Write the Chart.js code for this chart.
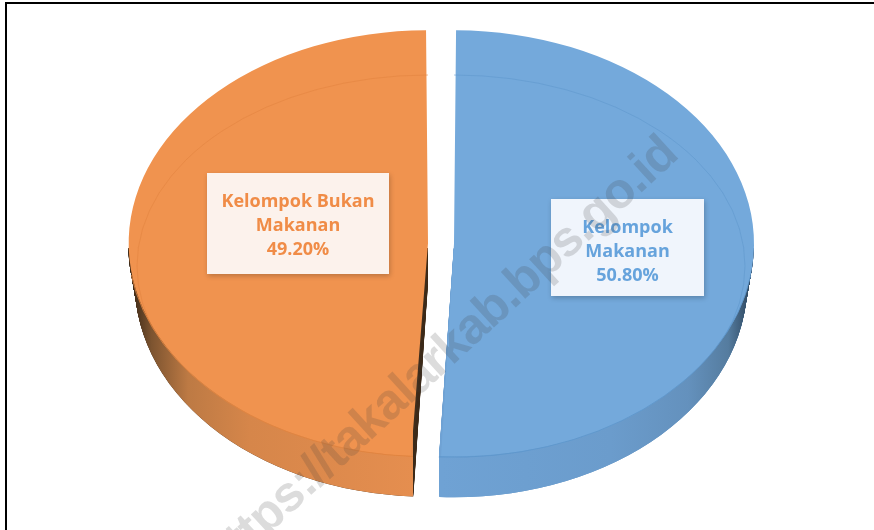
<!DOCTYPE html>
<html>
<head>
<meta charset="utf-8">
<script src="https://cdn.jsdelivr.net/npm/chart.js@4"></script>
<style>
html,body{margin:0;padding:0;background:#fff}
canvas{display:block}
#wrap{position:relative;width:874px;height:530px;overflow:hidden}
</style>
</head>
<body>
<div id="wrap"><canvas id="c" width="874" height="530"></canvas></div>
<script>
const categories = ["Kelompok Makanan", "Kelompok Bukan Makanan"];
const values = [50.8, 49.2];
const valueLabels = ["50.80%", "49.20%"];
const labelLines = [["Kelompok", "Makanan"], ["Kelompok Bukan", "Makanan"]];
const topColors = ["#74a9db", "#f0934f"];
const textColors = ["#66a3dc", "#f08c47"];
const boxColors = ["#f0f5fc", "#fcf2ec"];
const watermark = "https://takalarkab.bps.go.id";

const SY = 213.5 / 300, DEPTH = 40, SHRINK = 0.977;

function squash(ctx, cy) {
  ctx.translate(0, cy); ctx.scale(1, SY); ctx.translate(0, -cy);
}
function arcGeom(a) {
  const p = a.getProps(["x","y","startAngle","endAngle","outerRadius"], true);
  const mid = (p.startAngle + p.endAngle) / 2;
  // Chart.js moves an arc by a quarter of its offset and grows it by the same amount
  const off = (a.options.offset || 0) / 4;
  return {x: p.x + Math.cos(mid)*off, y: p.y + Math.sin(mid)*off,
          s: p.startAngle, e: p.endAngle, r: p.outerRadius + off};
}
function wedge(ctx, g, kx) {
  ctx.beginPath();
  ctx.moveTo(g.x, g.y);
  ctx.ellipse(g.x, g.y, g.r*kx, g.r, 0, g.s, g.e);
  ctx.closePath();
}
const pie3d = {
  id: "pie3d",
  beforeDatasetsDraw(chart) {
    const ctx = chart.ctx;
    const arcs = chart.getDatasetMeta(0).data;
    const cy = arcs[0].y;
    const blue = ctx.createLinearGradient(441, 0, 750, 0);
    blue.addColorStop(0, "#6fa2d4"); blue.addColorStop(.55, "#6b9ccc");
    blue.addColorStop(.8, "#6491bd"); blue.addColorStop(.93, "#557c9f"); blue.addColorStop(1, "#2f4860");
    const orange = ctx.createLinearGradient(132, 0, 413, 0);
    orange.addColorStop(0, "#3d2a18"); orange.addColorStop(.07, "#7d5430");
    orange.addColorStop(.2, "#bd7a44"); orange.addColorStop(.42, "#d6864a"); orange.addColorStop(1, "#e58e4f");
    const fills = [blue, orange];
    arcs.forEach((a, i) => {
      const g = arcGeom(a);
      const tipX = g.x + Math.cos(i === 1 ? g.s : g.e) * g.r;
      const sideTop = cy + 5;
      for (let d = DEPTH; d >= 1; d--) {
        const kx = 1 - (1 - SHRINK) * d / DEPTH;
        ctx.save();
        ctx.beginPath();
        ctx.rect(0, sideTop, 874, 530);
        ctx.clip();
        ctx.translate(0, d);
        squash(ctx, cy);
        ctx.fillStyle = i === 1 ? "#3f2d1c" : "#5f93c6";
        wedge(ctx, g, kx); ctx.fill();
        ctx.restore();
      }
      for (let d = DEPTH; d >= 1; d--) {
        const kx = 1 - (1 - SHRINK) * d / DEPTH;
        ctx.save();
        ctx.beginPath();
        if (i === 1) ctx.rect(0, sideTop, tipX, 530); else ctx.rect(tipX, sideTop, 874, 530);
        ctx.clip();
        ctx.translate(0, d);
        squash(ctx, cy);
        ctx.fillStyle = fills[i];
        wedge(ctx, g, kx); ctx.fill();
        ctx.restore();
      }
    });
    ctx.save();
    squash(ctx, cy);
  },
  afterDatasetsDraw(chart) {
    const ctx = chart.ctx;
    ctx.restore();
    const arcs = chart.getDatasetMeta(0).data;
    const cy = arcs[0].y;
    const lines = ["#5f97cc", "#e2843f"];
    arcs.forEach((a, i) => {
      const g = arcGeom(a);
      // front edge of the top face
      ctx.save();
      squash(ctx, cy);
      ctx.lineWidth = 1;
      ctx.strokeStyle = lines[i];
      ctx.beginPath();
      if (i === 0) ctx.ellipse(g.x, g.y, g.r, g.r, 0, 0.15, g.e);
      else ctx.ellipse(g.x, g.y, g.r, g.r, 0, g.s, Math.PI - 0.15);
      ctx.stroke();
      ctx.restore();
      // faint inner bevel ring
      ctx.save();
      ctx.beginPath();
      ctx.moveTo(g.x, g.y);
      ctx.ellipse(g.x, g.y, g.r, g.r * SY, 0, g.s, g.e);
      ctx.closePath();
      ctx.clip();
      ctx.strokeStyle = lines[i];
      ctx.globalAlpha = .55;
      ctx.lineWidth = 1;
      ctx.beginPath();
      ctx.ellipse(g.x, 266, g.r - 9, 191, 0, 0, Math.PI * 2);
      ctx.stroke();
      ctx.restore();
    });
  },
  afterDraw(chart) {
    const ctx = chart.ctx;
    const boxes = [[551, 199, 153, 97, 627.5, 227.5], [207, 173, 182, 101, 298, 201.5]];
    boxes.forEach((b, i) => {
      ctx.save();
      ctx.shadowColor = "rgba(0,0,0,.22)";
      ctx.shadowBlur = 5; ctx.shadowOffsetX = 1; ctx.shadowOffsetY = 2;
      ctx.fillStyle = boxColors[i];
      ctx.fillRect(b[0], b[1], b[2], b[3]);
      ctx.restore();
      ctx.save();
      ctx.fillStyle = textColors[i];
      ctx.font = "bold 18px 'Open Sans'";
      ctx.textAlign = "center"; ctx.textBaseline = "middle";
      const rows = labelLines[i].concat(valueLabels[i]);
      rows.forEach((t, k) => ctx.fillText(t, b[4], b[5] + k * 24));
      ctx.restore();
    });
    ctx.save();
    ctx.translate(680, 157);
    ctx.rotate(-42.5 * Math.PI / 180);
    ctx.font = "bold 50px 'Liberation Sans'";
    ctx.letterSpacing = "-1px";
    ctx.textAlign = "right";
    ctx.fillStyle = "rgba(60,60,60,.18)";
    ctx.textBaseline = "alphabetic";
    ctx.fillText(watermark, 0, 0);
    ctx.restore();
    ctx.fillStyle = "#000";
    ctx.fillRect(5, 2, 869, 2);
    ctx.fillRect(5, 2, 2, 528);
  }
};
new Chart(document.getElementById("c"), {
  type: "pie",
  data: {
    labels: categories,
    datasets: [{
      data: values,
      backgroundColor: topColors,
      borderWidth: 0,
      offset: 52,
      clip: false
    }]
  },
  options: {
    responsive: false,
    animation: false,
    radius: 287,
    layout: {padding: {left: 8, bottom: 43}},
    plugins: {legend: {display: false}, tooltip: {enabled: false}}
  },
  plugins: [pie3d]
});
</script>
</body>
</html>
